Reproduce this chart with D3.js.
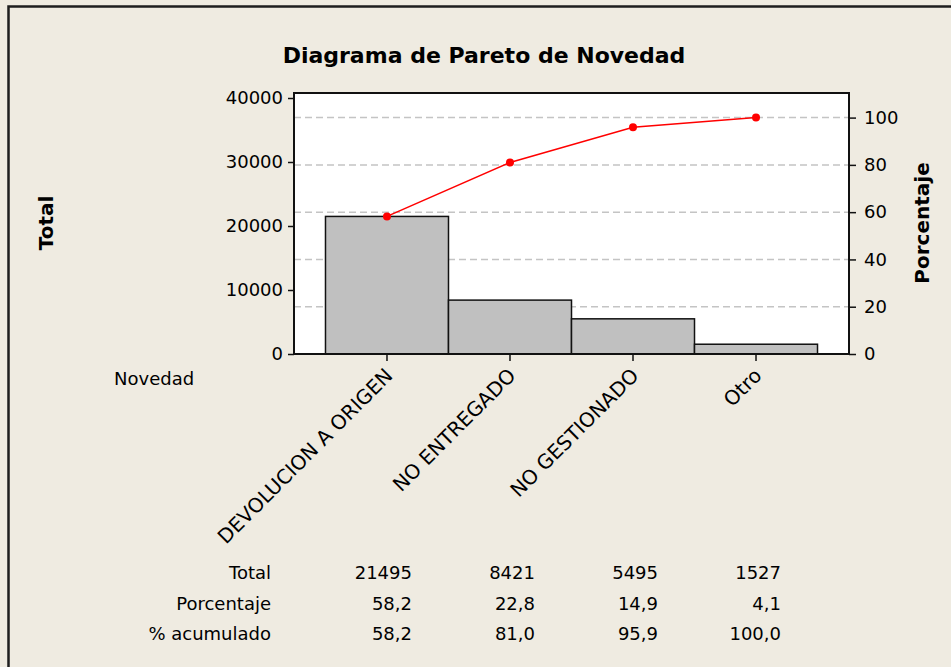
<!DOCTYPE html>
<html>
<head>
<meta charset="utf-8">
<script src="https://cdn.jsdelivr.net/npm/d3@7"></script>
<style>
  body { margin: 0; background: #efebe1; }
  text { font-family: "DejaVu Sans", sans-serif; fill: #000; }
</style>
</head>
<body>
<script>
const categories = ["DEVOLUCION A ORIGEN", "NO ENTREGADO", "NO GESTIONADO", "Otro"]
const totals = [21495, 8421, 5495, 1527]
const percents = [58.2, 22.8, 14.9, 4.1]
const cumulative = [58.2, 81.0, 95.9, 100.0]
const countTicks = [0, 10000, 20000, 30000, 40000]
const pctTicks = [0, 20, 40, 60, 80, 100]
const rowLabels = ["Total", "Porcentaje", "% acumulado"]

const width = 951
const height = 667
const plot = {left: 294, right: 849, top: 93, bottom: 354}
const comma = (v) => d3.format(".1f")(v).replace(".", ",")

const svg = d3.select("body").append("svg").attr("width", width).attr("height", height)

// outer frame (right/bottom run off the picture)
svg.append("rect")
  .attr("x", 8.5).attr("y", 6.5).attr("width", 1000).attr("height", 800)
  .attr("fill", "#efebe1").attr("stroke", "#1e1e1e").attr("stroke-width", 2.5)

const x = d3.scaleBand().domain(categories).range([plot.left, plot.right]).paddingInner(0).paddingOuter(0.256)
const y = d3.scaleLinear().domain([0, 40000]).range([plot.bottom, 98])
const sum = d3.sum(totals)
const yPct = d3.scaleLinear().domain([0, 100]).range([plot.bottom, y(sum)])

svg.append("rect")
  .attr("x", plot.left).attr("y", plot.top)
  .attr("width", plot.right - plot.left).attr("height", plot.bottom - plot.top)
  .attr("fill", "#fff")

// dashed grid on the percent scale
svg.append("g").selectAll("line").data(pctTicks.filter((d) => d > 0)).join("line")
  .attr("x1", plot.left).attr("x2", plot.right)
  .attr("y1", (d) => yPct(d)).attr("y2", (d) => yPct(d))
  .attr("stroke", "#c4c4c4").attr("stroke-width", 1.5).attr("stroke-dasharray", "7,4")

svg.append("g").selectAll("rect").data(totals).join("rect")
  .attr("x", (d, i) => x(categories[i]))
  .attr("y", (d) => y(d))
  .attr("width", x.bandwidth())
  .attr("height", (d) => y(0) - y(d))
  .attr("fill", "#c0c0c0").attr("stroke", "#111").attr("stroke-width", 1.5)

svg.append("rect")
  .attr("x", plot.left).attr("y", plot.top)
  .attr("width", plot.right - plot.left).attr("height", plot.bottom - plot.top)
  .attr("fill", "none").attr("stroke", "#111").attr("stroke-width", 2)

const styleAxis = (g) => {
  g.select(".domain").remove()
  g.selectAll(".tick line").attr("stroke", "#111").attr("stroke-width", 1.5)
  g.selectAll(".tick text").style("font-size", "18px").attr("fill", "#000")
}

svg.append("g").attr("transform", `translate(${plot.left},0)`)
  .call(d3.axisLeft(y).tickValues(countTicks).tickSize(6).tickPadding(5).tickFormat(d3.format("d")))
  .call(styleAxis)

svg.append("g").attr("transform", `translate(${plot.right},0)`)
  .call(d3.axisRight(yPct).tickValues(pctTicks).tickSize(7).tickPadding(8))
  .call(styleAxis)

svg.append("g").attr("transform", `translate(0,${plot.bottom})`)
  .call(d3.axisBottom(x).tickSize(7))
  .call(styleAxis)
  .call((g) => g.selectAll(".tick text")
    .style("font-size", "20px")
    .attr("y", 0).attr("dy", "0.35em")
    .attr("transform", "translate(2,18) rotate(-45)")
    .style("text-anchor", "end"))

// cumulative percent line
const line = d3.line()
  .x((d, i) => x(categories[i]) + x.bandwidth() / 2)
  .y((d) => yPct(d))
svg.append("path").datum(cumulative)
  .attr("d", line).attr("fill", "none").attr("stroke", "#ff0000").attr("stroke-width", 1.5)
svg.append("g").selectAll("circle").data(cumulative).join("circle")
  .attr("cx", (d, i) => x(categories[i]) + x.bandwidth() / 2)
  .attr("cy", (d) => yPct(d))
  .attr("r", 4).attr("fill", "#ff0000")

svg.append("text").attr("x", 484).attr("y", 63).attr("text-anchor", "middle")
  .style("font-size", "22px").style("font-weight", "bold").text("Diagrama de Pareto de Novedad")

svg.append("text").attr("transform", "translate(53,223) rotate(-90)").attr("text-anchor", "middle")
  .style("font-size", "20px").style("font-weight", "bold").text("Total")

svg.append("text").attr("transform", "translate(929,223) rotate(-90)").attr("text-anchor", "middle")
  .style("font-size", "20px").style("font-weight", "bold").text("Porcentaje")

svg.append("text").attr("x", 114).attr("y", 385).style("font-size", "18px").text("Novedad")

// table under the chart
const rows = [
  totals.map((d) => String(d)),
  percents.map(comma),
  cumulative.map(comma)
]
const rowY = d3.scalePoint().domain(rowLabels).range([579, 640])
const table = svg.append("g").style("font-size", "18px")
table.selectAll(".rowlabel").data(rowLabels).join("text")
  .attr("class", "rowlabel")
  .attr("x", 271).attr("y", (d) => rowY(d)).attr("text-anchor", "end").text((d) => d)
rows.forEach((vals, r) => {
  table.append("g").selectAll("text").data(vals).join("text")
    .attr("x", (d, i) => x(categories[i]) + x.bandwidth() / 2 + 25)
    .attr("y", rowY(rowLabels[r]))
    .attr("text-anchor", "end")
    .text((d) => d)
})
</script>
</body>
</html>
